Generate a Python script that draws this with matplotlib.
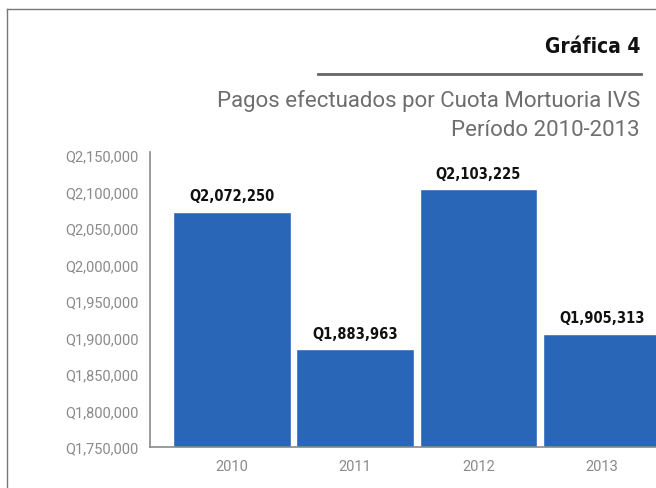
import matplotlib
matplotlib.use("Agg")
import matplotlib.pyplot as plt
from matplotlib.lines import Line2D
from matplotlib.ticker import FuncFormatter

years = ["2010", "2011", "2012", "2013"]
payments = [2072250, 1883963, 2103225, 1905313]
yticks = [1750000, 1800000, 1850000, 1900000, 1950000, 2000000, 2050000, 2100000, 2150000]

bar_color = "#2966B8"
gray = "#8a8a8a"
cond = ["DejaVu Sans"]

fig = plt.figure(figsize=(6.56, 4.89), dpi=100)

# frame lines (top and left)
fig.add_artist(Line2D([7/656, 1.0], [1 - 10/489, 1 - 10/489], color="#777777", lw=1.0, transform=fig.transFigure))
fig.add_artist(Line2D([7/656, 7/656], [0, 1 - 10/489], color="#777777", lw=1.0, transform=fig.transFigure))

# header
fig.text(640/656, 1 - 47/489, "Gráfica 4", ha="right", va="center", fontsize=15,
         fontweight="bold", family=cond, fontstretch="condensed", color="#111111")
fig.add_artist(Line2D([318/656, 641/656], [1 - 75/489, 1 - 75/489], color="#666666", lw=2.0, transform=fig.transFigure))
fig.text(640/656, 1 - 101/489, "Pagos efectuados por Cuota Mortuoria IVS", ha="right", va="center",
         fontsize=16, family=["Roboto", "DejaVu Sans"], color="#6e6e6e")
fig.text(640/656, 1 - 130/489, "Período 2010-2013", ha="right", va="center",
         fontsize=16, family=["Roboto", "DejaVu Sans"], color="#6e6e6e")

ax = fig.add_axes([150/656, 41/489, 1 - 150/656, (448 - 153)/489])
x = list(range(len(years)))
ax.bar(x, payments, width=0.955, color=bar_color, edgecolor="white", linewidth=1.0, zorder=2)
ax.set_ylim(1750000, 2154000)
ax.set_xlim(-0.664, 3.44)
ax.set_yticks(yticks)
ax.yaxis.set_major_formatter(FuncFormatter(lambda v, p: f"Q{int(v):,}"))
ax.set_xticks(x)
ax.set_xticklabels(years)
ax.tick_params(axis="both", length=0, colors=gray, labelsize=10.5)
ax.tick_params(axis="y", pad=8)
ax.tick_params(axis="x", pad=9)
for lab in ax.get_xticklabels() + ax.get_yticklabels():
    lab.set_family(["Roboto", "DejaVu Sans"])
for s in ["top", "right"]:
    ax.spines[s].set_visible(False)
ax.spines["left"].set_color(gray)
ax.spines["bottom"].set_color(gray)
ax.spines["left"].set_linewidth(1.2)
ax.spines["bottom"].set_linewidth(1.2)

for xi, v in zip(x, payments):
    ax.annotate(f"Q{v:,}", (xi, v), xytext=(0, 6), textcoords="offset points",
                ha="center", va="bottom", fontsize=10.5, fontweight="bold",
                family=cond, fontstretch="condensed", color="#111111",
                annotation_clip=False)

fig.savefig("out.png", dpi=100)
